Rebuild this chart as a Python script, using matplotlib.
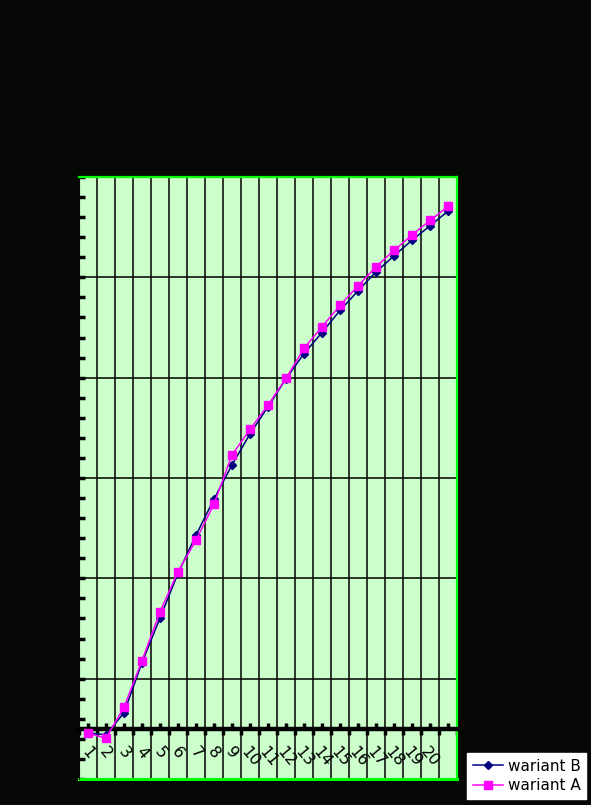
import matplotlib

matplotlib.use("Agg")
import matplotlib.pyplot as plt
import numpy as np

# values (21 categories, last one unlabelled)
categories = [str(i) for i in range(1, 21)] + [""]
wariant_b = [-0.4, -0.6, 1.6, 6.6, 11.05, 15.5, 19.3, 22.9, 26.3, 29.4, 32.1,
             34.9, 37.4, 39.5, 41.7, 43.65, 45.54, 47.14, 48.7, 50.13, 51.6]
wariant_a = [-0.45, -0.93, 2.16, 6.8, 11.65, 15.67, 18.8, 22.4, 27.3, 29.85, 32.27,
             34.93, 37.92, 40.07, 42.2, 44.15, 46.05, 47.68, 49.23, 50.67, 52.06]

BG = "#060806"
FILL = "#CCFFCC"
EDGE = "#00FF00"

fig = plt.figure(figsize=(5.91, 8.05), dpi=100, facecolor=BG)
ax = fig.add_axes([79 / 591, 26 / 805, 378 / 591, 602 / 805])
ax.set_facecolor(FILL)

x = np.arange(1, len(categories) + 1)
ax.plot(x, wariant_b, color="#000080", lw=1.1, marker="D", ms=4,
        mec="#000080", mfc="#000080", label="wariant B", zorder=3)
ax.plot(x, wariant_a, color="#FF00FF", lw=1.1, marker="s", ms=6,
        mec="#FF00FF", mfc="#FF00FF", label="wariant A", zorder=4)

ax.set_xlim(0.5, len(categories) + 0.5)
ax.set_ylim(-5, 55)

# y: gridlines every 10 from -5, tick marks every 2
ax.set_yticks(np.arange(-5, 56, 10))
ax.set_yticks(np.arange(-5, 56, 2), minor=True)
ax.tick_params(axis="y", which="both", direction="in", length=4, width=2.5,
               color="black", labelleft=False)
ax.grid(True, axis="y", which="major", color="black", lw=1.1, zorder=1)

# x: category axis crossing at 0, labels at centres, gridlines at boundaries
ax.set_xticks(x)
ax.set_xticklabels(categories)
ax.set_xticks(np.arange(0.5, len(categories) + 1, 1), minor=True)
ax.tick_params(axis="x", which="major", direction="in", length=4, width=2.5,
               color="black", pad=11, labelrotation=-50, labelsize=11.5,
               labelcolor="black")
ax.tick_params(axis="x", which="minor", direction="out", length=4, width=2.5,
               color="black")
ax.grid(True, axis="x", which="minor", color="black", lw=1.1, zorder=1)

ax.spines["bottom"].set_position(("data", 0))
ax.spines["bottom"].set_color("black")
ax.spines["bottom"].set_linewidth(3.2)
ax.spines["bottom"].set_zorder(2.5)
ax.spines["left"].set_color(BG)
for s in ("top", "right"):
    ax.spines[s].set_color(EDGE)
    ax.spines[s].set_linewidth(1.6)
ax.axhline(-5, color=EDGE, lw=2.2, clip_on=False, zorder=2)

h, l = ax.get_legend_handles_labels()
leg = fig.legend(h, l, loc="lower right", bbox_to_anchor=(0.997, 0.004),
                 fontsize=11, frameon=True, fancybox=False, framealpha=1,
                 handlelength=2.0, borderpad=0.35, labelspacing=0.3,
                 handletextpad=0.3, borderaxespad=0.2)
leg.get_frame().set_facecolor("white")
leg.get_frame().set_edgecolor("white")

fig.savefig("out.png", dpi=100, facecolor=BG)
